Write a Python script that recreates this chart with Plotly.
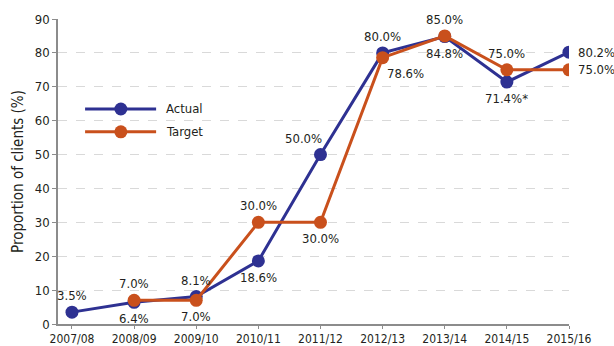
import plotly.graph_objects as go

# Financial years and series values (% of clients)
years = ["2007/08", "2008/09", "2009/10", "2010/11", "2011/12",
         "2012/13", "2013/14", "2014/15", "2015/16"]
actual = [3.5, 6.4, 8.1, 18.6, 50.0, 80.0, 84.8, 71.4, 80.2]
target = [None, 7.0, 7.0, 30.0, 30.0, 78.6, 85.0, 75.0, 75.0]
actual_labels = ["3.5%", "6.4%", "8.1%", "18.6%", "50.0%", "80.0%", "84.8%", "71.4%*", "80.2%"]
target_labels = [None, "7.0%", "7.0%", "30.0%", "30.0%", "78.6%", "85.0%", "75.0%", "75.0%"]

# Where each value label sits relative to its marker
actual_pos = ["above", "below", "above", "below", "above-left", "above", "below", "below", "right"]
target_pos = [None, "above", "below", "above", "below", "below-right", "above", "above", "right"]

BLUE = "#2e3192"
ORANGE = "#c9501c"
FONT = "DejaVu Sans Condensed, Liberation Sans Narrow, Arial Narrow, sans-serif"
TXT = "#231f20"

xs = list(range(len(years)))

fig = go.Figure()
for vals, color, name in [(actual, BLUE, "Actual"), (target, ORANGE, "Target")]:
    fig.add_trace(go.Scatter(
        x=xs, y=vals, mode="lines+markers", name=name,
        line=dict(color=color, width=3),
        marker=dict(color=color, size=13),
        showlegend=False,
    ))


def place(pos):
    if pos == "above":
        return dict(xanchor="center", yanchor="bottom", xshift=0, yshift=7)
    if pos == "below":
        return dict(xanchor="center", yanchor="top", xshift=0, yshift=-7)
    if pos == "above-left":
        return dict(xanchor="right", yanchor="bottom", xshift=4, yshift=7)
    if pos == "below-right":
        return dict(xanchor="left", yanchor="top", xshift=2, yshift=-6)
    return dict(xanchor="left", yanchor="middle", xshift=7, yshift=0)


annotations = []
for vals, labels, positions in [(actual, actual_labels, actual_pos),
                                (target, target_labels, target_pos)]:
    for x, v, lab, pos in zip(xs, vals, labels, positions):
        if v is None:
            continue
        annotations.append(dict(
            x=x, y=v, xref="x", yref="y", text=lab, showarrow=False,
            font=dict(family=FONT, size=13, color=TXT), **place(pos)))

# Hand-drawn legend with long line samples
shapes = []
for name, color, ly in [("Actual", BLUE, 0.705), ("Target", ORANGE, 0.63)]:
    shapes.append(dict(type="line", xref="paper", yref="paper",
                       x0=0.053, x1=0.192, y0=ly, y1=ly,
                       line=dict(color=color, width=3)))
    fig.add_trace(go.Scatter(
        x=[0.123], y=[ly], xaxis="x2", yaxis="y2", mode="markers",
        marker=dict(color=color, size=13), showlegend=False, hoverinfo="skip"))
    annotations.append(dict(x=0.207, y=ly, xref="paper", yref="paper",
                            text=name, showarrow=False, xanchor="left",
                            yanchor="middle",
                            font=dict(family=FONT, size=13, color=TXT)))

fig.update_layout(
    width=614, height=346,
    margin=dict(l=58, r=45, t=19, b=22),
    paper_bgcolor="white", plot_bgcolor="white",
    font=dict(family=FONT, size=13, color=TXT),
    xaxis=dict(
        tickmode="array", tickvals=xs, ticktext=years,
        range=[-0.225, 8], showgrid=False, zeroline=False, automargin=False,
        showline=True, linecolor="#8c8c8c", linewidth=1.5,
        ticks="outside", ticklen=3, tickcolor="#8c8c8c",
        tickfont=dict(family=FONT, size=12, color=TXT),
    ),
    yaxis=dict(
        range=[0, 90], dtick=10, showgrid=True, automargin=False,
        gridcolor="#d9d9d9", griddash="dash", gridwidth=1,
        zeroline=False, showline=True, linecolor="#8c8c8c", linewidth=1.5,
        ticks="outside", ticklen=4, tickcolor="#8c8c8c",
        tickfont=dict(family=FONT, size=13, color=TXT),
        title=dict(text="Proportion of clients (%)",
                   font=dict(family=FONT, size=15, color=TXT), standoff=8),
    ),
    xaxis2=dict(range=[0, 1], overlaying="x", visible=False, anchor="y2"),
    yaxis2=dict(range=[0, 1], overlaying="y", visible=False, anchor="x2"),
    shapes=shapes,
    annotations=annotations,
)

fig.write_html("out.html")
